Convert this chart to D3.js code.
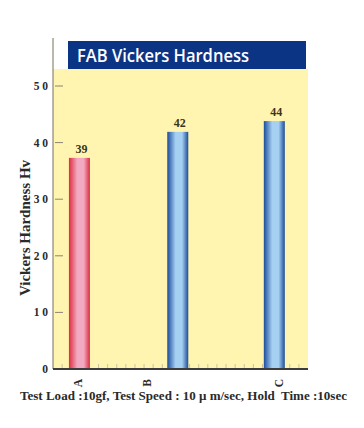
<!DOCTYPE html>
<html>
<head>
<meta charset="utf-8">
<script src="https://cdn.jsdelivr.net/npm/d3@7"></script>
<style>
  body { margin: 0; background: #fff; }
  svg { display: block; }
</style>
</head>
<body>
<div id="chart"></div>
<script>
// data
const categories = ["A", "B", "C"];
const barHeights = [37.3, 41.9, 43.8];      // bar tops as drawn
const valueLabels = ["39", "42", "44"];     // numbers printed over the bars
const barSlots = [2.9, 13.7, 24.3];         // where each bar sits on the x slot axis
const labelSlots = [2.75, 10.3, 24.8];      // where each category name sits
const yTicks = [0, 10, 20, 30, 40, 50];
const chartTitle = "FAB Vickers Hardness";
const yTitle = "Vickers Hardness Hv";
const footNote = "Test Load :10gf, Test Speed : 10 \u03bc m/sec, Hold  Time :10sec";

const W = 364, H = 428;
const plot = {left: 53, right: 308, top: 69, bottom: 369};

const svg = d3.select("#chart").append("svg")
  .attr("width", W)
  .attr("height", H);

const x = d3.scaleLinear().domain([0, 28]).range([plot.left, plot.right]);
const y = d3.scaleLinear().domain([0, 50]).range([plot.bottom, 86]);

// gradients for the bars
const defs = svg.append("defs");
function grad(id, dark, light) {
  const g = defs.append("linearGradient").attr("id", id)
    .attr("x1", "0%").attr("x2", "100%").attr("y1", "0%").attr("y2", "0%");
  g.append("stop").attr("offset", "0%").attr("stop-color", dark);
  g.append("stop").attr("offset", "40%").attr("stop-color", light);
  g.append("stop").attr("offset", "70%").attr("stop-color", light);
  g.append("stop").attr("offset", "100%").attr("stop-color", dark);
}
grad("pink", "#dd2c3e", "#f2aac3");
grad("blue", "#1c4c9c", "#a6d0f2");

// yellow plot area
svg.append("rect")
  .attr("x", plot.left).attr("y", plot.top)
  .attr("width", plot.right - plot.left).attr("height", plot.bottom - plot.top)
  .attr("fill", "#fff5b0");

// title box
svg.append("rect")
  .attr("x", 68).attr("y", 41)
  .attr("width", 238).attr("height", 28)
  .attr("fill", "#0c3485");
svg.append("text")
  .attr("x", 77).attr("y", 62)
  .attr("fill", "#fff")
  .attr("textLength", 172)
  .attr("lengthAdjust", "spacingAndGlyphs")
  .style("font-family", "'Open Sans', sans-serif")
  .style("font-weight", "600")
  .style("font-size", "18px")
  .text(chartTitle);

// minor ticks on the baseline
svg.append("g").selectAll("line")
  .data(d3.range(1, 28))
  .enter().append("line")
  .attr("x1", d => x(d)).attr("x2", d => x(d))
  .attr("y1", plot.bottom - 5).attr("y2", plot.bottom)
  .attr("stroke", "#c9c2a0").attr("stroke-width", 1);

// y axis
const yAxis = svg.append("g");
yAxis.append("line")
  .attr("x1", plot.left).attr("x2", plot.left)
  .attr("y1", 38).attr("y2", plot.bottom)
  .attr("stroke", "#77705a").attr("stroke-width", 1);
yAxis.selectAll("line.tick")
  .data(yTicks.filter(d => d > 0))
  .enter().append("line")
  .attr("class", "tick")
  .attr("x1", plot.left + 2).attr("x2", plot.left + 10)
  .attr("y1", d => y(d)).attr("y2", d => y(d))
  .attr("stroke", "#8a8470").attr("stroke-width", 1);
yAxis.selectAll("text")
  .data(yTicks)
  .enter().append("text")
  .attr("x", 48)
  .attr("y", d => y(d) + 4)
  .attr("text-anchor", "end")
  .attr("fill", "#2a2a2a")
  .style("font-family", "'Liberation Serif', serif")
  .style("font-weight", "bold")
  .style("font-size", "11.5px")
  .text(d => String(d).split("").join(" "));

// bars
const bw = 21;
svg.append("g").selectAll("rect")
  .data(categories)
  .enter().append("rect")
  .attr("x", (d, i) => x(barSlots[i]) - bw / 2)
  .attr("y", (d, i) => y(barHeights[i]))
  .attr("width", bw)
  .attr("height", (d, i) => y(0) - y(barHeights[i]))
  .attr("fill", (d, i) => i === 0 ? "url(#pink)" : "url(#blue)");

// value labels
svg.append("g").selectAll("text")
  .data(categories)
  .enter().append("text")
  .attr("x", (d, i) => x(barSlots[i]) + 2)
  .attr("y", (d, i) => y(barHeights[i]) - 5)
  .attr("text-anchor", "middle")
  .attr("fill", "#3a3520")
  .style("font-family", "'Liberation Serif', serif")
  .style("font-weight", "bold")
  .style("font-size", "12px")
  .text((d, i) => valueLabels[i]);

// baseline
svg.append("line")
  .attr("x1", plot.left).attr("x2", plot.right)
  .attr("y1", plot.bottom).attr("y2", plot.bottom)
  .attr("stroke", "#3c3c3c").attr("stroke-width", 2);

// category names, rotated
svg.append("g").selectAll("text")
  .data(categories)
  .enter().append("text")
  .attr("transform", (d, i) => "translate(" + (x(labelSlots[i]) + 4) + "," + 383 + ") rotate(-90)")
  .attr("text-anchor", "middle")
  .attr("fill", "#2a2a2a")
  .style("font-family", "'Liberation Serif', serif")
  .style("font-weight", "bold")
  .style("font-size", "11.5px")
  .text(d => d);

// y title
svg.append("text")
  .attr("transform", "translate(30,228) rotate(-90)")
  .attr("text-anchor", "middle")
  .attr("fill", "#2a2a2a")
  .style("font-family", "'Liberation Serif', serif")
  .style("font-weight", "bold")
  .style("font-size", "15px")
  .text(yTitle);

// footnote
svg.append("text")
  .attr("x", 20).attr("y", 400)
  .attr("textLength", 327)
  .attr("lengthAdjust", "spacingAndGlyphs")
  .attr("fill", "#2a2a2a")
  .style("white-space", "pre")
  .style("font-family", "'Liberation Serif', serif")
  .style("font-weight", "bold")
  .style("font-size", "13px")
  .text(footNote);
</script>
</body>
</html>
